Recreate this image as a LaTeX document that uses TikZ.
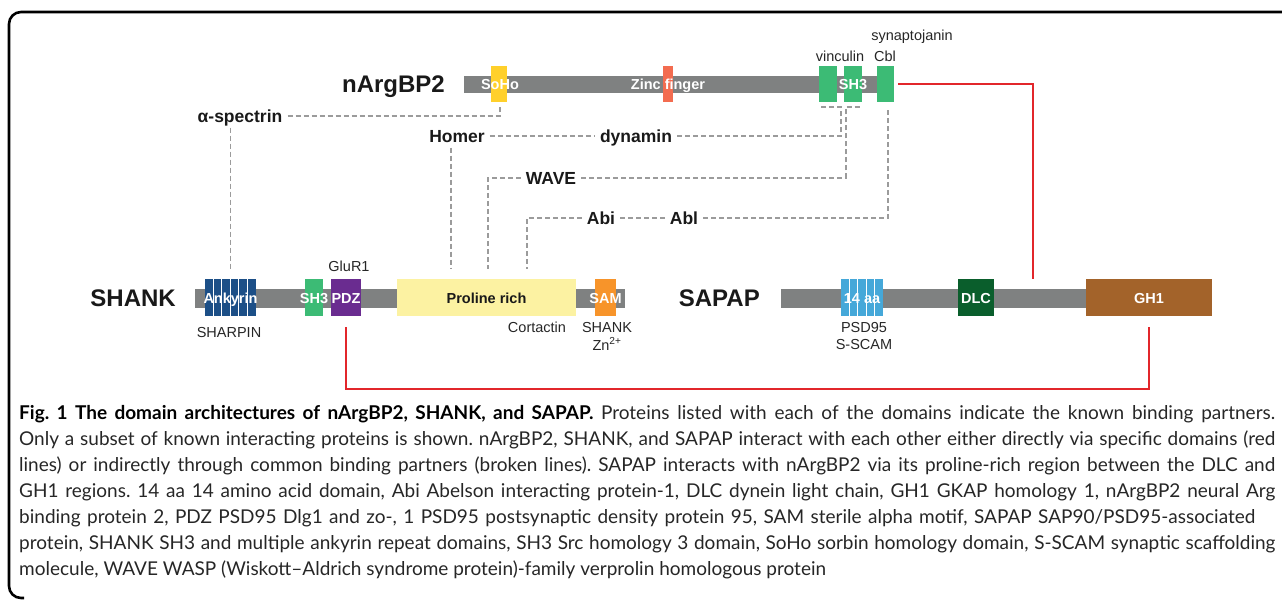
\documentclass[tikz,border=0pt]{standalone}
\usepackage{fontspec}
\setmainfont{Liberation Sans}
\newfontfamily\capfont{Lato}
\usepackage{graphicx}
\usetikzlibrary{calc}
\frenchspacing
\definecolor{bargray}{HTML}{7F8181}
\definecolor{sohoc}{HTML}{FFD02B}
\definecolor{zincc}{HTML}{F36C50}
\definecolor{greenc}{HTML}{3CBB75}
\definecolor{ankc}{HTML}{1C4F87}
\definecolor{pdzc}{HTML}{6A2C90}
\definecolor{prolc}{HTML}{FCF2A2}
\definecolor{samc}{HTML}{F7942A}
\definecolor{aac}{HTML}{45A8D9}
\definecolor{dlcc}{HTML}{0A5E2C}
\definecolor{ghc}{HTML}{A3632A}
\definecolor{redc}{HTML}{E2262B}
\definecolor{dashc}{HTML}{9B9B9B}
\definecolor{captc}{HTML}{262626}
\newlength\capw
\newcommand\jline[2]{\setlength\capw{#1}\setbox0=\hbox{#2}\ifdim\wd0>\capw\resizebox{\capw}{!}{#2}\else\makebox[\capw][s]{#2}\fi}
\begin{document}
\begin{tikzpicture}[x=1pt,y=-1pt,
  lab/.style={font=\fontsize{17.5}{20}\selectfont\bfseries, text=black!90, inner sep=5pt, text height=12.6pt, text depth=0pt},
  prot/.style={font=\fontsize{24}{28}\selectfont\bfseries, text=black!90, inner sep=0pt, text height=17.2pt, text depth=0pt},
  small/.style={font=\fontsize{14.5}{17}\selectfont, text=black!85, inner sep=0pt, text height=10.4pt, text depth=0pt},
  dtext/.style={font=\fontsize{14.5}{17}\selectfont\bfseries, text=white, inner sep=0pt, text height=10.4pt, text depth=0pt},
  dom/.style={inner sep=0pt, minimum height=37pt, draw=none},
  bar/.style={fill=bargray, inner sep=0pt, minimum height=19pt, anchor=west},
  dline/.style={draw=dashc, line width=1.5pt, dash pattern=on 5pt off 3pt},
  redl/.style={draw=redc, line width=2pt},
  capl/.style={anchor=west, inner sep=0pt, font=\capfont\fontsize{19}{22}\selectfont, text=captc, text height=13.8pt, text depth=4pt},
  stripe/.style={draw=white, line width=1pt}
]
\useasboundingbox (0,0) rectangle (1282,603);
% frame
\draw[line width=2.6pt, rounded corners=12pt] (1284,12) -- (9,12) -- (9,598) -- (24,598);

% ---------- nArgBP2 ----------
\node[bar, minimum width=426pt, minimum height=17pt] (nbar) at (464,84.5) {};
\node[dom, fill=sohoc, minimum width=16pt, minimum height=36pt] (soho) at (499,84) {};
\node[dom, fill=zincc, minimum width=10pt, minimum height=36pt] (zinc) at (668,84) {};
\node[dom, fill=greenc, minimum width=18pt, minimum height=36pt] (vin) at (828,84) {};
\node[dom, fill=greenc, minimum width=18pt, minimum height=36pt] (sh3n) at (853,84) {};
\node[dom, fill=greenc, minimum width=17pt, minimum height=36pt] (cbl) at (885.5,84) {};
\node[dtext] (tsoho) at (500,84.5) {SoHo};
\node[dtext] (tzinc) at (668,84.5) {Zinc finger};
\node[dtext] (tsh3n) at (853,84.5) {SH3};
\node[prot, anchor=east] (nargbp2) at (445,84) {nArgBP2};
\node[small] (lvin) at (840,56) {vinculin};
\node[small] (lcbl) at (885,56) {Cbl};
\node[small] (lsyn) at (912,35) {synaptojanin};

% ---------- SHANK ----------
\node[bar, minimum width=430pt] (sbar) at (195,298.5) {};
\node[dom, fill=ankc, minimum width=51pt] (ank) at (230.5,297.5) {};
\foreach \i in {1,...,5} \draw[stripe] ($(ank.north west)+(8.5*\i,0)$) -- ($(ank.south west)+(8.5*\i,0)$);
\node[dom, fill=greenc, minimum width=18pt] (sh3s) at (314,297.5) {};
\node[dom, fill=pdzc, minimum width=30pt] (pdz) at (346,297.5) {};
\node[dom, fill=prolc, minimum width=179pt] (prol) at (486.5,297.5) {};
\node[dom, fill=samc, minimum width=21pt] (sam) at (605.5,297.5) {};
\node[dtext] (tank) at (230.5,298) {Ankyrin};
\node[dtext] (tsh3s) at (314,298) {SH3};
\node[dtext] (tpdz) at (346,298) {PDZ};
\node[dtext, text=black!90] (tprol) at (486.5,298) {Proline rich};
\node[dtext] (tsam) at (605.5,298) {SAM};
\node[prot, anchor=east] (shank) at (176,298) {SHANK};
\node[small] (lglu) at (349,266) {GluR1};
\node[small] (lsharp) at (229,332) {SHARPIN};
\node[small] (lcort) at (537,327) {Cortactin};
\node[small] (lshank) at (607,327) {SHANK};
\node[small] (lzn) at (607,345) {Zn\textsuperscript{2+}};

% ---------- SAPAP ----------
\node[bar, minimum width=306pt] (pbar) at (781,298.5) {};
\node[dom, fill=aac, minimum width=42pt] (aa) at (862,297.5) {};
\foreach \i in {1,...,4} \draw[stripe] ($(aa.north west)+(8.4*\i,0)$) -- ($(aa.south west)+(8.4*\i,0)$);
\node[dom, fill=dlcc, minimum width=36pt] (dlc) at (976,297.5) {};
\node[dom, fill=ghc, minimum width=126pt] (gh1) at (1149,297.5) {};
\node[dtext] (taa) at (862,298) {14 aa};
\node[dtext] (tdlc) at (976,298) {DLC};
\node[dtext] (tgh1) at (1149,298) {GH1};
\node[prot, anchor=east] (sapap) at (760,298) {SAPAP};
\node[small] (lpsd) at (864,327) {PSD95};
\node[small] (lsscam) at (864,344) {S-SCAM};

% ---------- binding partners ----------
\node[lab] (aspec) at (240,116) {α-spectrin};
\node[lab] (homer) at (457,136) {Homer};
\node[lab] (dyn) at (636,136) {dynamin};
\node[lab] (wave) at (551,178) {WAVE};
\node[lab] (abi) at (601,218) {Abi};
\node[lab] (abl) at (684,218) {Abl};

\coordinate (homerin) at (451,279);
\coordinate (wavein) at (488,279);
\coordinate (abiin) at (527,279);
\coordinate (sapin) at (1033,289);

\draw[dline] (aspec.east) -| ($(soho.south)+(1,3)$);
\draw[dline, shorten >=10pt] (ank.north |- aspec.south) -- (ank.north);
\draw[dline] (homer.east) -- (dyn.west);
\draw[dline, shorten >=10pt] (homerin |- homer.south) -- (homerin);
\draw[dline] (dyn.east) -| ($(vin.south east)+(4,5)$) -- ($(vin.south west)+(0,5)$);
\draw[dline, shorten >=10pt] (wave.west) -| (wavein);
\draw[dline] (wave.east) -| ($(sh3n.south west)+(2,5)$) -- ($(sh3n.south east)+(0,5)$);
\draw[dline, shorten >=10pt] (abi.west) -| (abiin);
\draw[dline] (abi.east) -- (abl.west);
\draw[dline] (abl.east) -| ($(cbl.south)+(2.5,6)$);

% ---------- direct interactions ----------
\draw[redl, shorten >=10pt] ([xshift=4pt]cbl.east) -| (sapin);
\draw[redl] ([yshift=-11pt]pdz.south) -- ++(0,62) -| ([yshift=-11pt]gh1.south);

% ---------- caption ----------
\node[capl] (c1) at (19,415) {\jline{1256pt}{\textbf{\color{black}Fig. 1 The domain architectures of nArgBP2, SHANK, and SAPAP.} Proteins listed with each of the domains indicate the known binding partners.}};
\node[capl] (c2) at (19,441) {\jline{1256pt}{Only a subset of known interacting proteins is shown. nArgBP2, SHANK, and SAPAP interact with each other either directly via specific domains (red}};
\node[capl] (c3) at (19,467) {\jline{1256pt}{lines) or indirectly through common binding partners (broken lines). SAPAP interacts with nArgBP2 via its proline-rich region between the DLC and}};
\node[capl] (c4) at (19,493) {\jline{1256pt}{GH1 regions. 14 aa 14 amino acid domain, Abi Abelson interacting protein-1, DLC dynein light chain, GH1 GKAP homology 1, nArgBP2 neural Arg}};
\node[capl] (c5) at (19,519) {\jline{1236pt}{binding protein 2, PDZ PSD95 Dlg1 and zo-, 1 PSD95 postsynaptic density protein 95, SAM sterile alpha motif, SAPAP SAP90/PSD95-associated}};
\node[capl] (c6) at (19,545) {\jline{1256pt}{protein, SHANK SH3 and multiple ankyrin repeat domains, SH3 Src homology 3 domain, SoHo sorbin homology domain, S-SCAM synaptic scaffolding}};
\node[capl] (c7) at (19,571) {molecule, WAVE WASP (Wiskott–Aldrich syndrome protein)-family verprolin homologous protein};
\end{tikzpicture}
\end{document}
